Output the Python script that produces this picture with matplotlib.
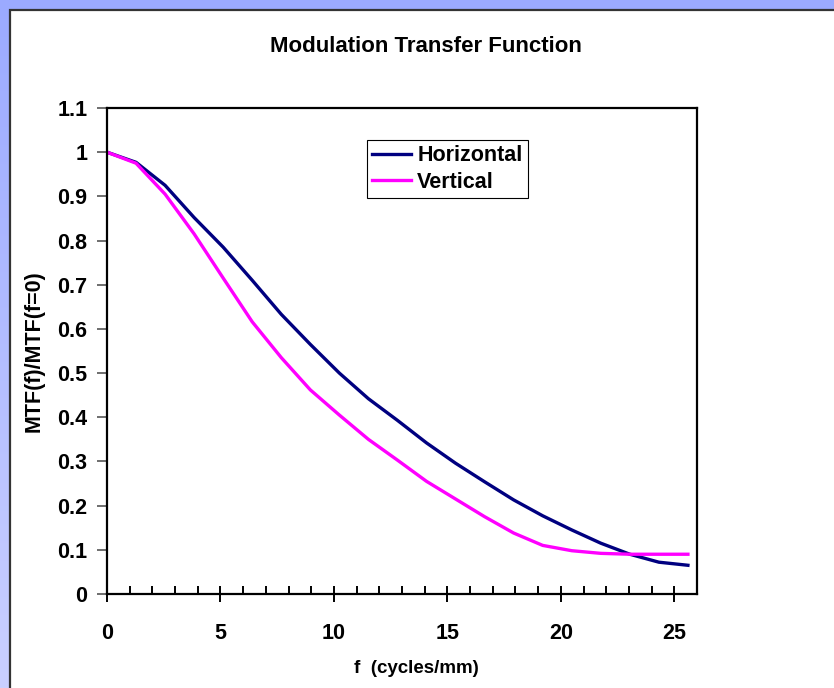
import numpy as np
import matplotlib
matplotlib.use("Agg")
from matplotlib import pyplot as plt
from matplotlib.patches import Rectangle
import matplotlib.ticker as plticker

## Data
freq = [0, 1.28, 2.56, 3.84, 5.12, 6.40, 7.68, 8.96, 10.24, 11.52, 12.80,
        14.08, 15.36, 16.64, 17.92, 19.20, 20.48, 21.76, 23.04, 24.32, 25.60]
mtf_horizontal = [1.000, 0.977, 0.925, 0.852, 0.785, 0.710, 0.633, 0.565, 0.500,
                  0.442, 0.393, 0.342, 0.296, 0.254, 0.213, 0.177, 0.145, 0.115,
                  0.090, 0.072, 0.065]
mtf_vertical = [1.000, 0.975, 0.905, 0.815, 0.715, 0.616, 0.535, 0.462, 0.405,
                0.350, 0.303, 0.255, 0.215, 0.175, 0.138, 0.110, 0.098, 0.092,
                0.090, 0.090, 0.090]
y_ticks = [0, 0.1, 0.2, 0.3, 0.4, 0.5, 0.6, 0.7, 0.8, 0.9, 1, 1.1]
y_ticklabels = ['0', '0.1', '0.2', '0.3', '0.4', '0.5', '0.6', '0.7', '0.8', '0.9', '1', '1.1']

plt.rcParams['font.family'] = ['Liberation Sans', 'DejaVu Sans']
plt.rcParams['font.weight'] = 'bold'
fs = 15.5

fig = plt.figure(figsize=(8.34, 6.88), dpi=100)

##Background frame
bg = fig.add_axes([0, 0, 1, 1], zorder=-1)
bg.axis('off')
top_col = np.array([155, 170, 255]) / 255.0
bot_col = np.array([202, 208, 255]) / 255.0
t = np.linspace(0, 1, 256)[:, None, None]
grad = top_col * (1 - t) + bot_col * t
grad = np.repeat(grad, 2, axis=1)
bg.imshow(grad, aspect='auto', extent=[0, 1, 0, 1], origin='upper')
bg.add_patch(Rectangle((10 / 834, -0.05), 1.0, 1 - 10 / 688 + 0.05,
                       facecolor='white', edgecolor='#333333', linewidth=1.6))
bg.set_xlim(0, 1)
bg.set_ylim(0, 1)

##Plot
ax = fig.add_axes([107 / 834, 94 / 688, 590 / 834, 486 / 688])
ax.plot(freq, mtf_horizontal, color='#000080', linewidth=2.4, label='Horizontal')
ax.plot(freq, mtf_vertical, color='#ff00ff', linewidth=2.4, label='Vertical')

ax.set_xlim(0, 26)
ax.set_ylim(0, 1.1)
ax.xaxis.set_major_locator(plticker.MultipleLocator(5))
ax.xaxis.set_minor_locator(plticker.MultipleLocator(1))
ax.set_yticks(y_ticks)
ax.set_yticklabels(y_ticklabels)

for sp in ax.spines.values():
    sp.set_linewidth(1.6)
ax.tick_params(axis='x', which='major', direction='inout', length=12, width=1.4,
               pad=15, labelsize=fs)
ax.tick_params(axis='x', which='minor', direction='in', length=6, width=1.4)
ax.tick_params(axis='y', which='major', direction='out', length=7, width=1.2,
               pad=7, labelsize=fs, color='#555555')

ax.set_title('Modulation Transfer Function', fontsize=16, fontweight='bold',
             x=0.541, pad=40)
ax.set_xlabel('f  (cycles/mm)', fontsize=13.5, fontweight='bold')
ax.xaxis.set_label_coords(0.524, -0.135)
ax.set_ylabel('MTF(f)/MTF(f=0)', fontsize=fs, fontweight='bold', labelpad=9)

leg = ax.legend(loc='upper left', bbox_to_anchor=(0.44, 0.934), borderaxespad=0,
                fancybox=False, framealpha=1, edgecolor='black', fontsize=fs,
                handlelength=1.8, handletextpad=0.3, borderpad=0.25, labelspacing=0.25)
leg.get_frame().set_linewidth(0.8)

fig.savefig('out.png', dpi=100)
